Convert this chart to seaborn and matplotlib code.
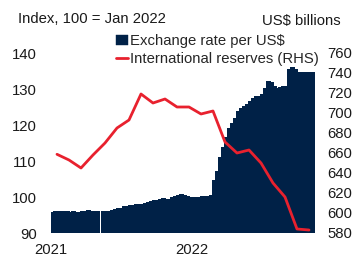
import numpy as np
import pandas as pd
import matplotlib
matplotlib.use("Agg")
import matplotlib.pyplot as plt
import seaborn as sns

# ---- data ----
# Exchange rate index (100 = Jan 2022), 4 readings per month, Jan 2021 - Oct 2022
fx_index = [
    95.5, 95.8, 95.9, 95.8, 95.7, 95.7, 95.6, 95.7,
    95.6, 95.6, 95.7, 95.8, 96.1, 95.8, 95.9, 95.7,
    np.nan, 95.7, 95.7, 95.8, 96.1, 96.4, 96.6, 96.8,
    97.1, 97.2, 97.4, 97.6, 97.8, 97.8, 97.9, 98.0,
    98.3, 98.6, 98.8, 99.0, 99.3, 99.4, 99.2, 99.3,
    99.6, 99.9, 100.2, 100.5, 100.3, 100.0, 99.8, 99.7,
    99.8, 99.8, 99.9, 100.0, 100.0, 100.2, 104.5, 107.0,
    110.8, 113.5, 116.5, 118.8, 120.2, 121.8, 123.6, 124.4,
    125.0, 125.6, 126.4, 127.2, 127.7, 127.9, 128.4, 130.0,
    132.0, 131.6, 130.5, 129.9, 130.2, 130.5, 130.6, 135.2,
    135.7, 135.3, 134.4, 134.4, 134.5, 134.5, 134.5, 134.5,
]
# International reserves, US$ billions, monthly Jan 2021 - Oct 2022
reserves = [658.7, 653, 645, 658, 670, 685, 693, 719, 710, 714, 706,
            706, 699, 702, 671, 660, 663, 650, 630, 616, 584, 583]
year_labels = ["2021", "2022"]
fx_label = "Exchange rate per US$"
res_label = "International reserves (RHS)"
per_month = 4

NAVY = "#002147"
RED = "#e8212e"

sns.set_style("white")
plt.rcParams["font.family"] = ["Liberation Sans", "DejaVu Sans"]
FS = 10.7

fx_df = pd.DataFrame({"pos": np.arange(len(fx_index)), "fx": fx_index})
res_df = pd.DataFrame({"month": np.arange(len(reserves)), "res": reserves})
res_df["pos"] = res_df["month"] * per_month + (per_month - 1) / 2

W, H = 356, 256
fig = plt.figure(figsize=(W / 100, H / 100), dpi=100)
ax = fig.add_axes([51 / W, 1 - 233 / H, 264 / W, 198 / H])

sns.barplot(data=fx_df, x="pos", y="fx", order=list(fx_df["pos"]), ax=ax,
            color=NAVY, width=1.0, errorbar=None, saturation=1,
            edgecolor=NAVY, linewidth=0.3, label=fx_label)
for p in ax.patches:
    p.set_antialiased(False)
ax2 = ax.twinx()
sns.lineplot(data=res_df, x="pos", y="res", ax=ax2, color=RED,
             linewidth=2.0, label=res_label, legend=False)

n = len(fx_index)
ax.set_xlim(-0.5, n - 0.5)
ax.set_ylim(90, 145)
ax2.set_ylim(580, 778)
ax.set_yticks([90, 100, 110, 120, 130, 140])
ax2.set_yticks(list(range(580, 761, 20)))
ax.set_xticks([-0.5, 12 * per_month - 1.5])
ax.set_xticklabels(year_labels)
ax.set_xlabel("")
ax.set_ylabel("")
ax2.set_ylabel("")
ax2.set_xlabel("")

for a in (ax, ax2):
    for s in a.spines.values():
        s.set_visible(False)
    a.tick_params(length=0, labelsize=FS, colors="#1a1a1a")
    a.grid(False)
ax.tick_params(axis="y", pad=10)
ax.tick_params(axis="x", pad=7)
ax2.tick_params(axis="y", pad=9)
if ax.get_legend():
    ax.get_legend().remove()

h1, l1 = ax.get_legend_handles_labels()
h2, l2 = ax2.get_legend_handles_labels()
fig.legend(h1[:1] + h2[:1], [fx_label, res_label], loc="upper left",
           bbox_to_anchor=(116 / W, 1 - 34 / H), frameon=False, fontsize=FS,
           borderpad=0, borderaxespad=0, handlelength=0.8, handleheight=0.7,
           handletextpad=0.15, labelspacing=0.28)

fig.text(18 / W, 1 - 19 / H, "Index, 100 = Jan 2022", fontsize=FS,
         ha="left", va="center", color="#1a1a1a")
fig.text(341 / W, 1 - 21 / H, "US$ billions", fontsize=FS,
         ha="right", va="center", color="#1a1a1a")

fig.savefig("out.png", dpi=100, facecolor="white")
